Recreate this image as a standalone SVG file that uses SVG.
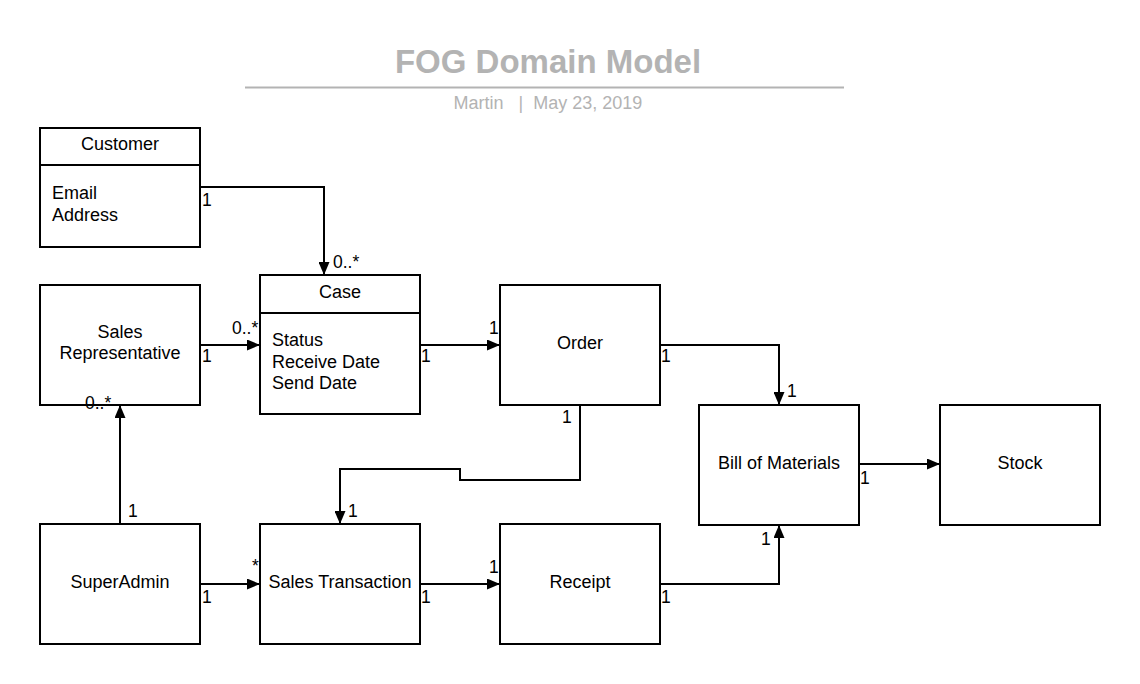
<svg xmlns="http://www.w3.org/2000/svg" width="1140" height="684" viewBox="0 0 1140 684">
<style>
text{font-family:"Liberation Sans",Arial,sans-serif;fill:#000}
.box{fill:#fff;stroke:#000;stroke-width:2}
.n{font-size:18px;text-anchor:middle}
.a{font-size:18px}
.m{font-size:17.5px}
.c{fill:none;stroke:#000;stroke-width:2}
</style>
<defs>
<marker id="ah" viewBox="0 0 13 11" refX="13" refY="5.5" markerWidth="13" markerHeight="11" markerUnits="userSpaceOnUse" orient="auto">
<path d="M0,0 L13,5.5 L0,11 Z" fill="#000"/>
</marker>
</defs>
<rect width="1140" height="684" fill="#fff"/>
<g id="title">
<text x="548" y="73" font-size="33" font-weight="bold" text-anchor="middle" style="fill:#b3b3b3">FOG Domain Model</text>
<line x1="245" y1="87.5" x2="844" y2="87.5" stroke="#b3b3b3" stroke-width="2"/>
<text x="548" y="109" font-size="18" text-anchor="middle" style="fill:#b3b3b3" xml:space="preserve">Martin   |  May 23, 2019</text>
</g>
<g id="connectors">
<polyline class="c" points="200,187 324,187 324,275" marker-end="url(#ah)"/>
<line class="c" x1="200" y1="345" x2="260" y2="345" marker-end="url(#ah)"/>
<line class="c" x1="420" y1="345" x2="500" y2="345" marker-end="url(#ah)"/>
<polyline class="c" points="660,345 779,345 779,405" marker-end="url(#ah)"/>
<polyline class="c" points="580,405 580,480 460,480 460,469 340,469 340,524" marker-end="url(#ah)"/>
<line class="c" x1="120" y1="524" x2="120" y2="405" marker-end="url(#ah)"/>
<line class="c" x1="200" y1="584" x2="260" y2="584" marker-end="url(#ah)"/>
<line class="c" x1="420" y1="584" x2="500" y2="584" marker-end="url(#ah)"/>
<polyline class="c" points="660,584 779,584 779,525" marker-end="url(#ah)"/>
<line class="c" x1="859" y1="464" x2="940" y2="464" marker-end="url(#ah)"/>
</g>
<g id="customer">
<rect class="box" x="40" y="128" width="160" height="119"/>
<line x1="40" y1="165" x2="200" y2="165" stroke="#000" stroke-width="2"/>
<text class="n" x="120" y="150">Customer</text>
<text class="a" x="52" y="199">Email</text>
<text class="a" x="52" y="221">Address</text>
</g>
<g id="case">
<rect class="box" x="260" y="275" width="160" height="139"/>
<line x1="260" y1="313" x2="420" y2="313" stroke="#000" stroke-width="2"/>
<text class="n" x="340" y="298">Case</text>
<text class="a" x="272" y="346">Status</text>
<text class="a" x="272" y="368">Receive Date</text>
<text class="a" x="272" y="389">Send Date</text>
</g>
<g id="salesrep">
<rect class="box" x="40" y="285" width="160" height="120"/>
<text class="n" x="120" y="338">Sales</text>
<text class="n" x="120" y="359">Representative</text>
</g>
<g id="order">
<rect class="box" x="500" y="285" width="160" height="120"/>
<text class="n" x="580" y="349">Order</text>
</g>
<g id="bom">
<rect class="box" x="699" y="405" width="160" height="120"/>
<text class="n" x="779" y="469">Bill of Materials</text>
</g>
<g id="stock">
<rect class="box" x="940" y="405" width="160" height="120"/>
<text class="n" x="1020" y="469">Stock</text>
</g>
<g id="superadmin">
<rect class="box" x="40" y="524" width="160" height="120"/>
<text class="n" x="120" y="588">SuperAdmin</text>
</g>
<g id="salestransaction">
<rect class="box" x="260" y="524" width="160" height="120"/>
<text class="n" x="340" y="588">Sales Transaction</text>
</g>
<g id="receipt">
<rect class="box" x="500" y="524" width="160" height="120"/>
<text class="n" x="580" y="588">Receipt</text>
</g>
<g id="connector-labels">
<text class="m" x="202" y="206">1</text>
<text class="m" x="333" y="268">0..*</text>
<text class="m" x="202" y="362">1</text>
<text class="m" x="232" y="334">0..*</text>
<text class="m" x="421" y="362">1</text>
<text class="m" x="489" y="334">1</text>
<text class="m" x="661" y="362">1</text>
<text class="m" x="787" y="397">1</text>
<text class="m" x="562" y="423">1</text>
<text class="m" x="348" y="517">1</text>
<text class="m" x="128" y="517">1</text>
<text class="m" x="85" y="409">0..*</text>
<text class="m" x="202" y="603">1</text>
<text class="m" x="252" y="572">*</text>
<text class="m" x="421" y="603">1</text>
<text class="m" x="489" y="573">1</text>
<text class="m" x="661" y="603">1</text>
<text class="m" x="761" y="545">1</text>
<text class="m" x="860" y="484">1</text>
</g>
</svg>
